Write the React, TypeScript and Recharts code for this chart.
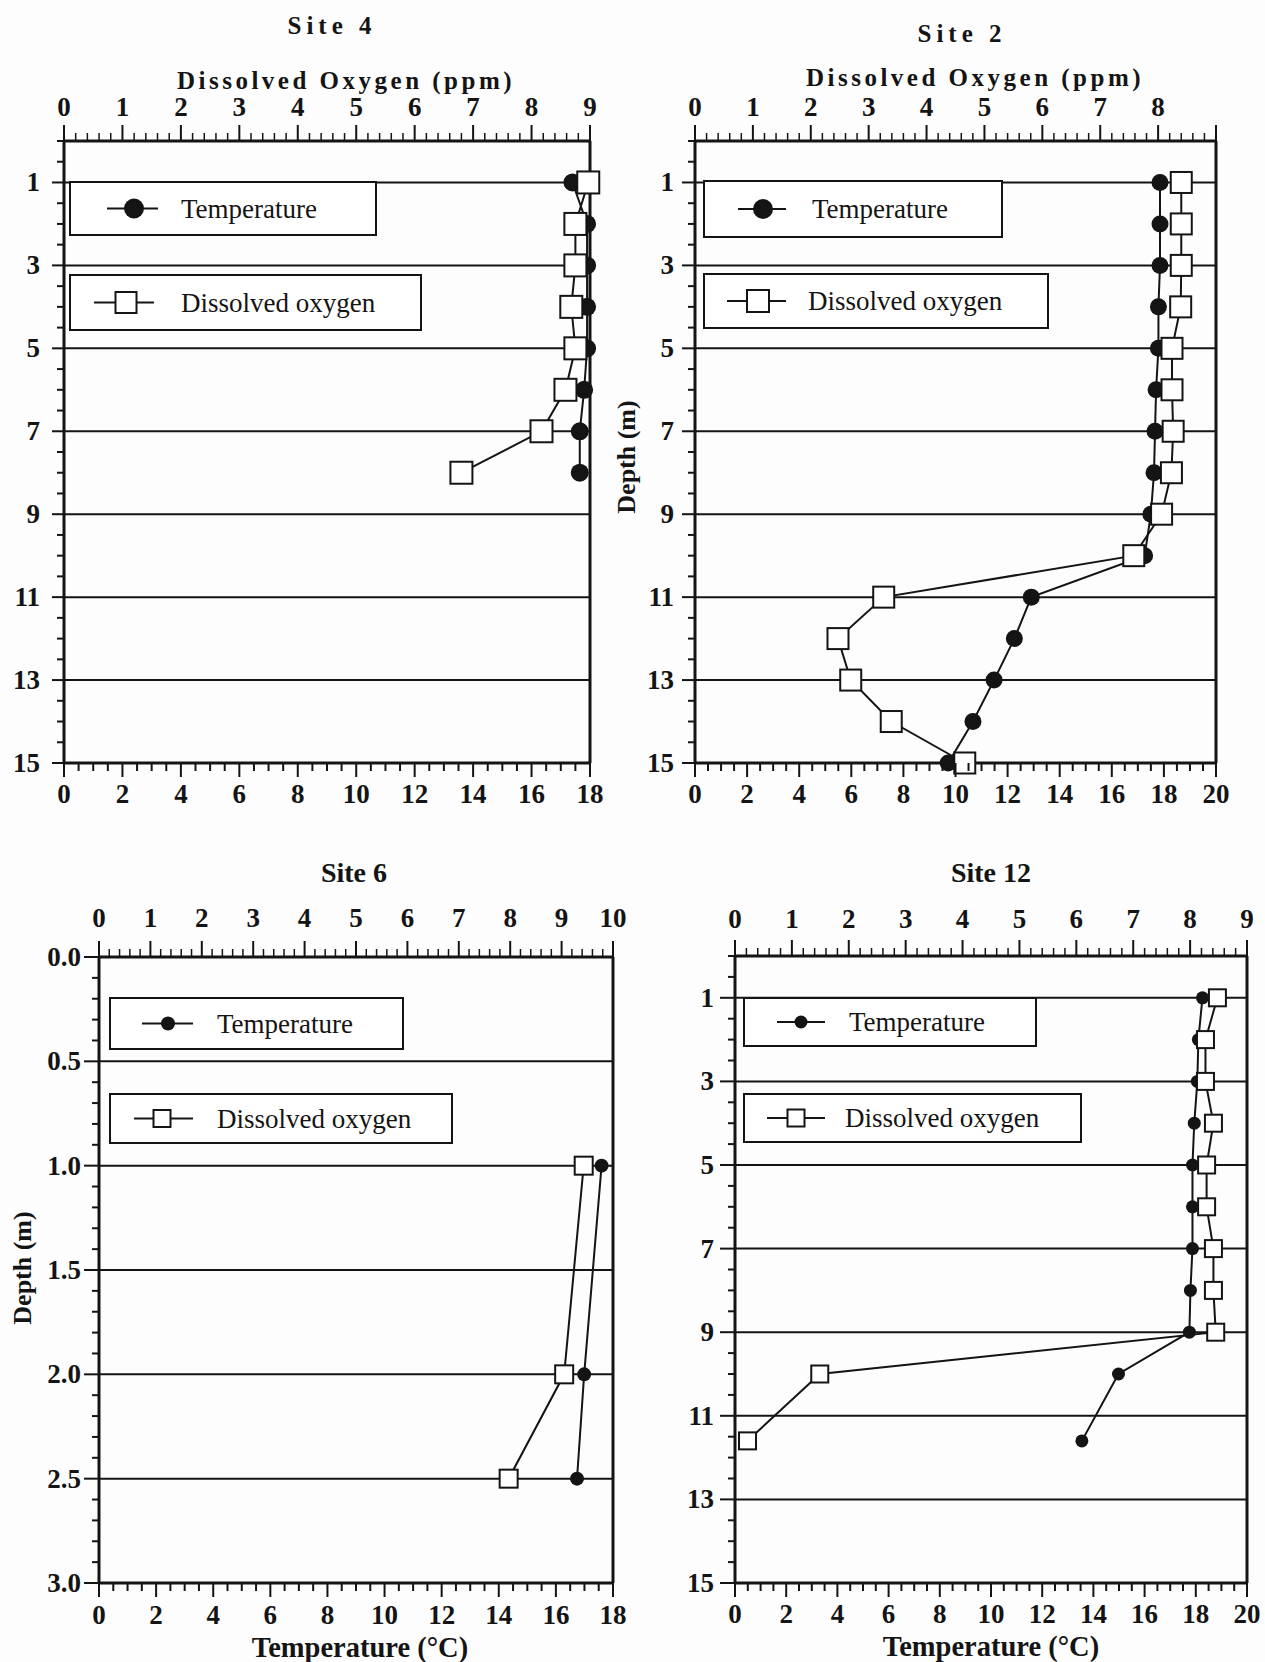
import React from "react";
import { ScatterChart, Scatter, XAxis, YAxis, ReferenceLine } from "recharts";

const FONT = '"Liberation Serif", "Times New Roman", Times, serif';
const INK = "#141414";

// Site 4
const site4Depth = [1, 2, 3, 4, 5, 6, 7, 8];
const site4Temp = [17.4, 17.9, 17.9, 17.9, 17.9, 17.8, 17.65, 17.65];
const site4DO = [8.97, 8.75, 8.75, 8.68, 8.75, 8.58, 8.17, 6.8];

// Site 2
const site2Depth = [1, 2, 3, 4, 5, 6, 7, 8, 9, 10, 11, 12, 13, 14, 15];
const site2Temp = [17.85, 17.85, 17.85, 17.79, 17.79, 17.7, 17.66, 17.62, 17.5, 17.26, 12.91, 12.26, 11.48, 10.67, 9.72];
const site2DO = [8.4, 8.4, 8.4, 8.39, 8.24, 8.24, 8.26, 8.23, 8.06, 7.58, 3.26, 2.47, 2.69, 3.39, 4.66];

// Site 6
const site6Depth = [1.0, 2.0, 2.5];
const site6Temp = [17.6, 16.99, 16.74];
const site6DO = [9.43, 9.05, 7.97];

// Site 12
const site12Depth = [1, 2, 3, 4, 5, 6, 7, 8, 9, 10, 11.6];
const site12Temp = [18.26, 18.1, 18.06, 17.94, 17.87, 17.87, 17.87, 17.79, 17.75, 14.98, 13.55];
const site12DO = [8.48, 8.27, 8.27, 8.41, 8.29, 8.29, 8.41, 8.41, 8.45, 1.49, 0.22];

// tick labels and gridlines
const doLabels9 = [0, 1, 2, 3, 4, 5, 6, 7, 8, 9];
const doLabels8 = [0, 1, 2, 3, 4, 5, 6, 7, 8];
const doLabels10 = [0, 1, 2, 3, 4, 5, 6, 7, 8, 9, 10];
const tempLabels18 = [0, 2, 4, 6, 8, 10, 12, 14, 16, 18];
const tempLabels20 = [0, 2, 4, 6, 8, 10, 12, 14, 16, 18, 20];
const depthLabels15 = [1, 3, 5, 7, 9, 11, 13, 15];
const depthLabels3 = [0, 0.5, 1, 1.5, 2, 2.5, 3];
const grid15 = [1, 3, 5, 7, 9, 11, 13];
const grid3 = [0.5, 1, 1.5, 2, 2.5];

const steps = (max: number, step: number) => {
  const out: number[] = [];
  for (let i = 0; i * step <= max + 1e-9; i++) out.push(Math.round(i * step * 100) / 100);
  return out;
};

const labelStyle = { fontFamily: FONT, fontWeight: 700, fontSize: 27, fill: INK };

const topTick = (labels: number[], gap: number) => (t: any) => {
  const v = t.payload.value;
  const major = Math.abs(v - Math.round(v)) < 1e-6;
  return (
    <g>
      <line x1={t.x} x2={t.x} y1={t.y} y2={t.y - (major ? 16 : 8)} stroke={INK} strokeWidth={major ? 2 : 1.5} />
      {labels.includes(v) && (
        <text x={t.x} y={t.y - gap} textAnchor="middle" dominantBaseline="central" style={labelStyle}>{v}</text>
      )}
    </g>
  );
};

const bottomTick = (labels: number[], gap: number) => (t: any) => {
  const v = t.payload.value;
  const major = labels.includes(v);
  return (
    <g>
      <line x1={t.x} x2={t.x} y1={t.y} y2={t.y + (major ? 14 : 8)} stroke={INK} strokeWidth={2} />
      {major && (
        <text x={t.x} y={t.y + gap} textAnchor="middle" dominantBaseline="central" style={labelStyle}>{v}</text>
      )}
    </g>
  );
};

const leftTick = (labels: number[], gap: number, len: number, fmt: (v: number) => string) => (t: any) => {
  const v = t.payload.value;
  const major = labels.includes(v);
  return (
    <g>
      <line x1={t.x} x2={t.x - (major ? len : 7)} y1={t.y} y2={t.y} stroke={INK} strokeWidth={2} />
      {major && (
        <text x={t.x - gap} y={t.y} textAnchor="end" dominantBaseline="central" style={labelStyle}>{fmt(v)}</text>
      )}
    </g>
  );
};

type PanelProps = {
  left: number; top: number; width: number; height: number;
  margin: { top: number; right: number; bottom: number; left: number };
  depth: number[]; temp: number[]; oxygen: number[];
  doMax: number; doLabels: number[]; tMax: number; tLabels: number[];
  depthMax: number; depthStep: number; depthLabels: number[]; fmt: (v: number) => string;
  grid: number[]; dotR: number; sq: number;
  topGap: number; bottomGap: number; leftGap: number; leftLen: number;
};

// axes get 1px of room; margins below already take that off
const Panel = (p: PanelProps) => {
  const tempPts = p.depth.map((d, i) => ({ depth: d, temp: p.temp[i] }));
  const doPts = p.depth.map((d, i) => ({ depth: d, do: p.oxygen[i] }));
  const m = { top: p.margin.top - 1, bottom: p.margin.bottom - 1, left: p.margin.left - 1, right: p.margin.right };
  return (
    <div style={{ position: "absolute", left: p.left, top: p.top }}>
      <ScatterChart width={p.width} height={p.height} margin={m}>
        <XAxis xAxisId="do" orientation="top" type="number" dataKey="do" domain={[0, p.doMax]}
          ticks={steps(p.doMax, 0.2)} interval={0} height={1} tickSize={0} tickMargin={0} tickLine={false}
          axisLine={{ stroke: INK, strokeWidth: 3 }} tick={topTick(p.doLabels, p.topGap)} />
        <XAxis xAxisId="t" orientation="bottom" type="number" dataKey="temp" domain={[0, p.tMax]}
          ticks={steps(p.tMax, 0.5)} interval={0} height={1} tickSize={0} tickMargin={0} tickLine={false}
          axisLine={{ stroke: INK, strokeWidth: 3 }} tick={bottomTick(p.tLabels, p.bottomGap)} />
        <YAxis type="number" dataKey="depth" reversed domain={[0, p.depthMax]}
          ticks={steps(p.depthMax, p.depthStep)} interval={0} width={1} tickSize={0} tickMargin={0} tickLine={false}
          axisLine={{ stroke: INK, strokeWidth: 3 }} tick={leftTick(p.depthLabels, p.leftGap, p.leftLen, p.fmt)} />
        {p.grid.map((g) => (
          <ReferenceLine key={g} xAxisId="t" y={g} stroke={INK} strokeWidth={2} />
        ))}
        <ReferenceLine xAxisId="t" x={p.tMax} stroke={INK} strokeWidth={3} />
        <Scatter xAxisId="t" data={tempPts} line={{ stroke: INK, strokeWidth: 2 }} lineType="joint" isAnimationActive={false}
          shape={(s: any) => <circle cx={s.cx} cy={s.cy} r={p.dotR} fill={INK} />} />
        <Scatter xAxisId="do" data={doPts} line={{ stroke: INK, strokeWidth: 2 }} lineType="joint" isAnimationActive={false}
          shape={(s: any) => (
            <rect x={s.cx - p.sq / 2} y={s.cy - p.sq / 2} width={p.sq} height={p.sq} fill="#fff" stroke={INK} strokeWidth={2} />
          )} />
      </ScatterChart>
    </div>
  );
};

type BoxProps = { x: number; y: number; w: number; h: number; l1: number; l2: number; mx: number; tx: number; label: string; r?: number; s?: number };

const LegendBox = (b: BoxProps) => (
  <div style={{ position: "absolute", left: b.x, top: b.y, width: b.w, height: b.h, boxSizing: "border-box", border: `2px solid ${INK}`, background: "#fff" }}>
    <svg width={b.w} height={b.h} style={{ position: "absolute", left: -2, top: -2 }}>
      <line x1={b.l1 - b.x} x2={b.l2 - b.x} y1={b.h / 2} y2={b.h / 2} stroke={INK} strokeWidth={2} />
      {b.r ? (
        <circle cx={b.mx - b.x} cy={b.h / 2} r={b.r} fill={INK} />
      ) : (
        <rect x={b.mx - b.x - (b.s || 0) / 2} y={b.h / 2 - (b.s || 0) / 2} width={b.s} height={b.s} fill="#fff" stroke={INK} strokeWidth={2} />
      )}
    </svg>
    <span style={{ position: "absolute", left: b.tx - b.x - 2, top: b.h / 2 - 2, transform: "translateY(-50%)", fontSize: 27, lineHeight: 1, whiteSpace: "nowrap" }}>
      {b.label}
    </span>
  </div>
);

const Text = ({ x, y, size, spacing = 0, rotate = false, children }: any) => (
  <div style={{ position: "absolute", left: x, top: y, transform: `translate(-50%, -50%)${rotate ? " rotate(-90deg)" : ""}`,
    fontSize: size, fontWeight: 700, letterSpacing: spacing, lineHeight: 1, whiteSpace: "nowrap" }}>
    {children}
  </div>
);

const int = (v: number) => String(v);
const one = (v: number) => v.toFixed(1);

export default function App() {
  return (
    <div style={{ position: "absolute", left: 0, top: 0, width: 1265, height: 1662, background: "#fdfdfd", fontFamily: FONT, color: INK, overflow: "hidden" }}>
      <Panel left={0} top={0} width={632} height={831} margin={{ top: 141, left: 64, right: 42, bottom: 68 }}
        depth={site4Depth} temp={site4Temp} oxygen={site4DO} doMax={9} doLabels={doLabels9} tMax={18} tLabels={tempLabels18}
        depthMax={15} depthStep={0.5} depthLabels={depthLabels15} fmt={int} grid={grid15} dotR={9} sq={22}
        topGap={34} bottomGap={31} leftGap={24} leftLen={12} />
      <Panel left={632} top={0} width={633} height={831} margin={{ top: 141, left: 63, right: 49, bottom: 68 }}
        depth={site2Depth} temp={site2Temp} oxygen={site2DO} doMax={9} doLabels={doLabels8} tMax={20} tLabels={tempLabels20}
        depthMax={15} depthStep={0.5} depthLabels={depthLabels15} fmt={int} grid={grid15} dotR={8.5} sq={21}
        topGap={34} bottomGap={31} leftGap={21} leftLen={13} />
      <Panel left={0} top={831} width={632} height={831} margin={{ top: 126, left: 99, right: 19, bottom: 79 }}
        depth={site6Depth} temp={site6Temp} oxygen={site6DO} doMax={10} doLabels={doLabels10} tMax={18} tLabels={tempLabels18}
        depthMax={3} depthStep={0.1} depthLabels={depthLabels3} fmt={one} grid={grid3} dotR={7} sq={18}
        topGap={39} bottomGap={32} leftGap={18} leftLen={15} />
      <Panel left={632} top={831} width={633} height={831} margin={{ top: 125, left: 103, right: 18, bottom: 79 }}
        depth={site12Depth} temp={site12Temp} oxygen={site12DO} doMax={9} doLabels={doLabels9} tMax={20} tLabels={tempLabels20}
        depthMax={15} depthStep={0.5} depthLabels={depthLabels15} fmt={int} grid={grid15} dotR={6.5} sq={17}
        topGap={37} bottomGap={31} leftGap={21} leftLen={15} />

      <LegendBox x={69} y={181} w={308} h={55} l1={107} l2={158} mx={134} tx={181} r={10} label="Temperature" />
      <LegendBox x={69} y={274} w={353} h={57} l1={94} l2={154} mx={126} tx={181} s={21} label="Dissolved oxygen" />
      <LegendBox x={703} y={180} w={300} h={58} l1={738} l2={786} mx={763} tx={812} r={10} label="Temperature" />
      <LegendBox x={703} y={273} w={346} h={56} l1={727} l2={786} mx={758} tx={808} s={22} label="Dissolved oxygen" />
      <LegendBox x={109} y={997} w={295} h={53} l1={142} l2={193} mx={168} tx={217} r={7} label="Temperature" />
      <LegendBox x={109} y={1093} w={344} h={51} l1={134} l2={193} mx={162} tx={217} s={17} label="Dissolved oxygen" />
      <LegendBox x={743} y={997} w={294} h={50} l1={777} l2={825} mx={801} tx={849} r={6.5} label="Temperature" />
      <LegendBox x={743} y={1093} w={339} h={50} l1={767} l2={825} mx={796} tx={845} s={17} label="Dissolved oxygen" />

      <Text x={332} y={25} size={25} spacing={5}>Site 4</Text>
      <Text x={346} y={80} size={25} spacing={3.5}>Dissolved Oxygen (ppm)</Text>
      <Text x={962} y={33} size={25} spacing={5}>Site 2</Text>
      <Text x={975} y={77} size={25} spacing={3.5}>Dissolved Oxygen (ppm)</Text>
      <Text x={627} y={457} size={26} rotate>Depth (m)</Text>
      <Text x={354} y={873} size={28}>Site 6</Text>
      <Text x={991} y={873} size={28}>Site 12</Text>
      <Text x={23} y={1268} size={26} rotate>Depth (m)</Text>
      <Text x={360} y={1648} size={28.5}>Temperature (°C)</Text>
      <Text x={991} y={1647} size={28.5}>Temperature (°C)</Text>
    </div>
  );
}
